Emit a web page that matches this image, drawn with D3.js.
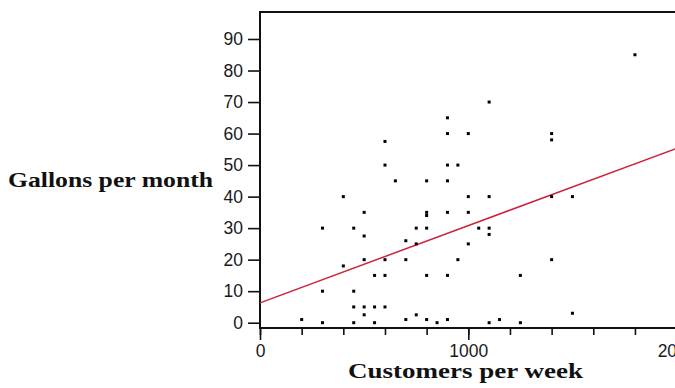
<!DOCTYPE html>
<html>
<head>
<meta charset="utf-8">
<script src="https://cdn.jsdelivr.net/npm/d3@7"></script>
<style>
  html, body { margin: 0; padding: 0; background: #fff; overflow: hidden; }
  svg { display: block; }
</style>
</head>
<body>
<svg id="chart" width="675" height="388"></svg>
<script>
// Customers per week (x) against gallons per month (y)
const customers = [
  200, 300, 300, 300, 400, 400, 450, 450, 450, 450,
  500, 500, 500, 500, 500, 550, 550, 550, 600, 600,
  600, 600, 600, 650, 700, 700, 700, 750, 750, 750,
  800, 800, 800, 800, 800, 800, 850, 900, 900, 900,
  900, 900, 900, 900, 950, 950, 1000, 1000, 1000, 1000,
  1050, 1100, 1100, 1100, 1100, 1100, 1150, 1250, 1250, 1400,
  1400, 1400, 1400, 1500, 1500, 1800
];
const gallons = [
  1, 30, 10, 0, 40, 18, 30, 10, 5, 0,
  35, 27.5, 20, 5, 2.5, 15, 5, 0, 57.5, 50,
  20, 15, 5, 45, 26, 20, 1, 30, 25, 2.5,
  45, 35, 34, 30, 15, 1, 0, 65, 60, 50,
  45, 35, 15, 1, 50, 20, 60, 40, 35, 25,
  30, 70, 40, 30, 28, 0, 1, 15, 0, 60,
  58, 40, 20, 40, 3, 85
];
// Fitted line endpoints (customers, gallons)
const fitCustomers = [0, 2000];
const fitGallons = [6.3, 55.3];

const xTicksMajor = [0, 1000, 2000];
const xTicksMinor = [0, 200, 400, 600, 800, 1000, 1200, 1400, 1600, 1800, 2000];
const yTicks = [0, 10, 20, 30, 40, 50, 60, 70, 80, 90];

const svg = d3.select("#chart");

const plotLeft = 260, plotRight = 700, plotTop = 12, plotBottom = 328;

const x = d3.scaleLinear().domain([0, 2000]).range([260, 676.6]);
const y = d3.scaleLinear().domain([0, 90]).range([322.7, 39]);

const ink = "#111";

// Top border of the frame
svg.append("line").attr("x1", plotLeft).attr("x2", plotRight).attr("y1", plotTop).attr("y2", plotTop)
  .attr("stroke", ink).attr("stroke-width", 2);

// Y axis
const yAxis = svg.append("g").attr("transform", `translate(${plotLeft - 1},0)`)
  .call(d3.axisLeft(y).tickValues(yTicks).tickSize(11).tickPadding(5));
yAxis.select(".domain").remove();
yAxis.selectAll(".tick line").attr("stroke", ink).attr("stroke-width", 1.6);
yAxis.selectAll(".tick text")
  .attr("font-family", "'Liberation Sans', Arial, sans-serif")
  .attr("font-size", 17.5).attr("fill", "#1a1a1a");

// X axis: minor ticks, then labelled major ticks
const xMinor = svg.append("g").attr("transform", `translate(0,${plotBottom + 1})`)
  .call(d3.axisBottom(x).tickValues(xTicksMinor).tickSize(6).tickFormat(""));
xMinor.select(".domain").remove();
xMinor.selectAll(".tick line").attr("stroke", ink).attr("stroke-width", 1.6);

const xMajor = svg.append("g").attr("transform", `translate(0,${plotBottom + 1})`)
  .call(d3.axisBottom(x).tickValues(xTicksMajor).tickSize(11).tickPadding(5).tickFormat(d3.format("d")));
xMajor.select(".domain").remove();
xMajor.selectAll(".tick line").attr("stroke", ink).attr("stroke-width", 1.6);
xMajor.selectAll(".tick text")
  .attr("font-family", "'Liberation Sans', Arial, sans-serif")
  .attr("font-size", 17.5).attr("fill", "#1a1a1a");

// Axis lines
svg.append("line").attr("x1", plotLeft).attr("x2", plotLeft).attr("y1", plotTop - 1).attr("y2", plotBottom + 1)
  .attr("stroke", ink).attr("stroke-width", 2);
svg.append("line").attr("x1", plotLeft - 1).attr("x2", plotRight).attr("y1", plotBottom).attr("y2", plotBottom)
  .attr("stroke", ink).attr("stroke-width", 2);

// Fitted line
const fit = fitCustomers.map((c, i) => ({ c, g: fitGallons[i] }));
svg.append("path")
  .datum(fit)
  .attr("d", d3.line().x(d => x(d.c)).y(d => y(d.g)))
  .attr("fill", "none").attr("stroke", "#cc2338").attr("stroke-width", 1.5);

// Data points as small squares
const pts = customers.map((c, i) => ({ c, g: gallons[i] }));
svg.append("g").selectAll("rect").data(pts).join("rect")
  .attr("x", d => x(d.c) - 1.5).attr("y", d => y(d.g) - 1.5)
  .attr("width", 3).attr("height", 3).attr("fill", "#000");

// Axis titles
svg.append("text")
  .attr("x", 8).attr("y", 187)
  .attr("font-family", "'Liberation Serif', 'Times New Roman', serif")
  .attr("font-weight", "bold").attr("font-size", 22)
  .attr("textLength", 205).attr("lengthAdjust", "spacingAndGlyphs")
  .attr("fill", "#111")
  .text("Gallons per month");

svg.append("text")
  .attr("x", 465.5).attr("y", 377.5).attr("text-anchor", "middle")
  .attr("font-family", "'Liberation Serif', 'Times New Roman', serif")
  .attr("font-weight", "bold").attr("font-size", 22)
  .attr("textLength", 235).attr("lengthAdjust", "spacingAndGlyphs")
  .attr("fill", "#111")
  .text("Customers per week");
</script>
</body>
</html>
